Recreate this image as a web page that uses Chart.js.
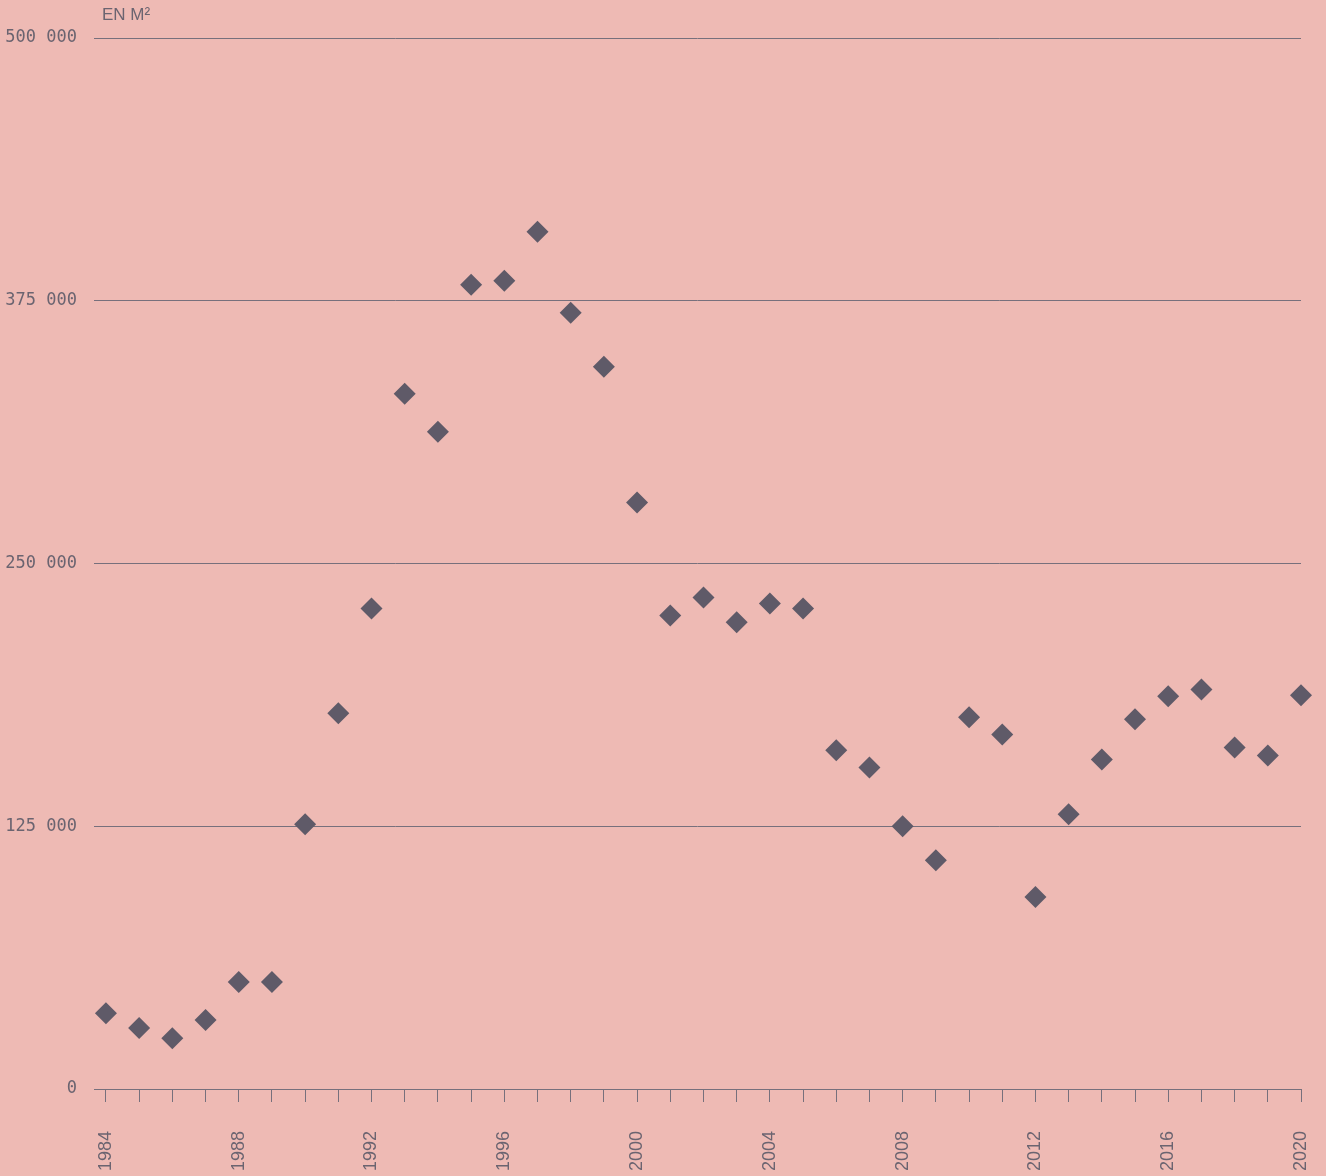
<!DOCTYPE html>
<html>
<head>
    <title>Surfaces</title>
    <script src="https://cdn.jsdelivr.net/npm/chart.js"></script>
    <style>
        html, body { margin: 0; padding: 0; background: #eebab4; }
        #wrap { position: relative; width: 1326px; height: 1176px; }
        #unit {
            position: absolute; left: 102px; top: 5px;
            font-family: "Liberation Sans", Arial, sans-serif; font-size: 17px; color: #6b6470;
        }
    </style>
</head>
<body>
    <div id="wrap">
        <canvas id="chart" width="1326" height="1176"></canvas>
        <div id="unit">EN M²</div>
    </div>
    <script>
        // values, one per year
        const years = [1984, 1985, 1986, 1987, 1988, 1989, 1990, 1991, 1992, 1993,
            1994, 1995, 1996, 1997, 1998, 1999, 2000, 2001, 2002, 2003,
            2004, 2005, 2006, 2007, 2008, 2009, 2010, 2011, 2012, 2013,
            2014, 2015, 2016, 2017, 2018, 2019, 2020];
        const surfaces = [36000, 29000, 24200, 32800, 50900, 50900, 126000, 178700, 228600, 330800,
            312700, 382600, 384500, 407800, 369300, 343600, 279000, 225300, 233800, 222000,
            231000, 228600, 161100, 153000, 125000, 108800, 176800, 168700, 91300, 130700,
            156800, 175900, 186800, 190100, 162500, 158700, 187300];
        const yTicks = [0, 125000, 250000, 375000, 500000];
        const labelYears = [1984, 1988, 1992, 1996, 2000, 2004, 2008, 2012, 2016, 2020];

        const points = years.map((y, i) => ({ x: y, y: surfaces[i] }));

        new Chart(document.getElementById('chart'), {
            type: 'scatter',
            data: {
                datasets: [{
                    data: points,
                    pointStyle: 'rectRot',
                    pointRadius: 11,
                    pointHoverRadius: 11,
                    backgroundColor: '#5f5a68',
                    borderWidth: 0,
                    clip: false
                }]
            },
            options: {
                responsive: false,
                animation: false,
                layout: { padding: { top: 38, right: 25, bottom: 0, left: 0 } },
                plugins: { legend: { display: false }, tooltip: { enabled: false } },
                scales: {
                    x: {
                        type: 'linear',
                        min: 1983.64,
                        max: 2020,
                        afterBuildTicks: scale => { scale.ticks = years.map(v => ({ value: v })); },
                        afterFit: scale => {
                            scale.height = 87;
                            scale.paddingLeft = 0;
                            scale.paddingRight = 0;
                        },
                        grid: { drawOnChartArea: false, drawTicks: true, tickLength: 13, color: '#77707c', lineWidth: 1 },
                        border: { display: true, color: '#77707c' },
                        ticks: {
                            autoSkip: false,
                            minRotation: 90,
                            maxRotation: 90,
                            padding: 29,
                            color: '#6b6470',
                            font: { family: '"Liberation Sans", Arial, sans-serif', size: 18 },
                            callback: v => labelYears.includes(v) ? String(v) : ''
                        }
                    },
                    y: {
                        min: 0,
                        max: 500000,
                        afterBuildTicks: scale => { scale.ticks = yTicks.map(v => ({ value: v })); },
                        afterFit: scale => {
                            scale.width = 94;
                            scale.paddingTop = 0;
                            scale.paddingBottom = 0;
                        },
                        grid: { drawTicks: false, color: '#77707c', lineWidth: 1 },
                        border: { display: false },
                        ticks: {
                            padding: 17,
                            color: '#6b6470',
                            font: { family: '"DejaVu Sans Mono", monospace', size: 17 },
                            callback: v => String(v).replace(/\B(?=(\d{3})+(?!\d))/g, ' ')
                        }
                    }
                }
            }
        });
    </script>
</body>
</html>
